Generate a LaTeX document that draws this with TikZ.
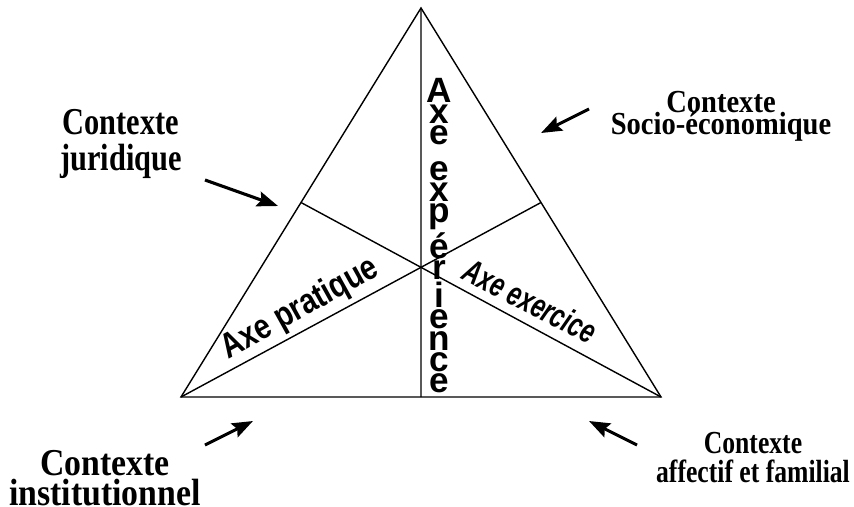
\documentclass[tikz,border=0pt]{standalone}
\usepackage{fontspec}
\setmainfont{Liberation Serif}
\newfontfamily\axefont{Liberation Sans}
\newfontfamily\pratfont[FakeStretch=0.82]{Liberation Sans}
\newfontfamily\exerfont[FakeStretch=0.7]{Liberation Sans}
\newfontfamily\narrowfont[FakeStretch=0.8]{Liberation Serif}
\newfontfamily\midfont[FakeStretch=0.89]{Liberation Serif}
\newcommand\tightskip{\lineskiplimit=-20pt\relax\lineskip=0pt\relax}
\usetikzlibrary{arrows.meta, calc, positioning}

\begin{document}
\begin{tikzpicture}[x=0.025cm, y=-0.025cm,
    edge/.style={draw=black, line width=1pt},
    arr/.style={-{Stealth[length=5.2mm, width=3.8mm, inset=0.8mm]}, line width=2.2pt},
    ctx/.style={align=center, anchor=base, inner sep=0pt},
    axe/.style={font=\axefont\bfseries\fontsize{25}{25}\selectfont, inner sep=0pt}
  ]
  \useasboundingbox (0,0) rectangle (854,506);
  \coordinate (top) at (421,8);
  \coordinate (bl)  at (181,397);
  \coordinate (br)  at (661,397);
  \coordinate (ml)  at ($(top)!0.5!(bl)$);
  \coordinate (mr)  at ($(top)!0.5!(br)$);
  \coordinate (mb)  at ($(bl)!0.5!(br)$);
  \draw[edge] (top) -- (bl) -- (br) -- cycle;
  \draw[edge] (top) -- (mb);
  \draw[edge] (bl) -- (mr);
  \draw[edge] (br) -- (ml);

  \node[inner sep=0pt, rotate=29, font=\pratfont\bfseries\fontsize{25}{25}\selectfont] (prat) at (300,309) {Axe pratique};
  \node[inner sep=0pt, rotate=-27, font=\exerfont\bfseries\itshape\fontsize{24}{24}\selectfont] (exer) at (530,301) {Axe exercice};

  \node[axe, anchor=north] (exp0) at (439,78) {A};
  \foreach \ch/\gap [count=\i, remember=\i as \j (initially 0)] in
      {x/1.2pt, e/1.2pt, e/11.5pt, x/1.2pt, p/1.2pt, é/1.2pt, r/1.2pt, i/1.2pt, e/1.2pt, n/1.2pt, c/1.2pt, e/1.2pt}
    \node[axe, below=\gap of exp\j] (exp\i) {\ch};

  \node[ctx, font=\narrowfont\bfseries\fontsize{27}{25}\selectfont] (jur)  at (121,170) {Contexte\\juridique};
  \node[ctx, font=\midfont\bfseries\fontsize{22.8}{15}\selectfont\tightskip] (soc) at (721,134) {Contexte\\Socio-économique};
  \node[ctx, font=\midfont\bfseries\fontsize{27}{21.3}\selectfont\tightskip] (inst) at (105,505) {Contexte\\institutionnel};
  \node[ctx, font=\narrowfont\bfseries\fontsize{22.8}{20.6}\selectfont\tightskip] (aff) at (753,482) {Contexte\\affectif et familial};

  \coordinate (jurtail)  at (205,180);
  \coordinate (jurtip)   at (278,206);
  \coordinate (soctail)  at (589,109);
  \coordinate (soctip)   at (541,133);
  \coordinate (insttail) at (205,445);
  \coordinate (insttip)  at (253,421);
  \coordinate (afftail)  at (637,445);
  \coordinate (afftip)   at (589,421);
  \draw[arr] (jurtail) -- (jurtip);
  \draw[arr] (soctail) -- (soctip);
  \draw[arr] (insttail) -- (insttip);
  \draw[arr] (afftail) -- (afftip);
\end{tikzpicture}
\end{document}
